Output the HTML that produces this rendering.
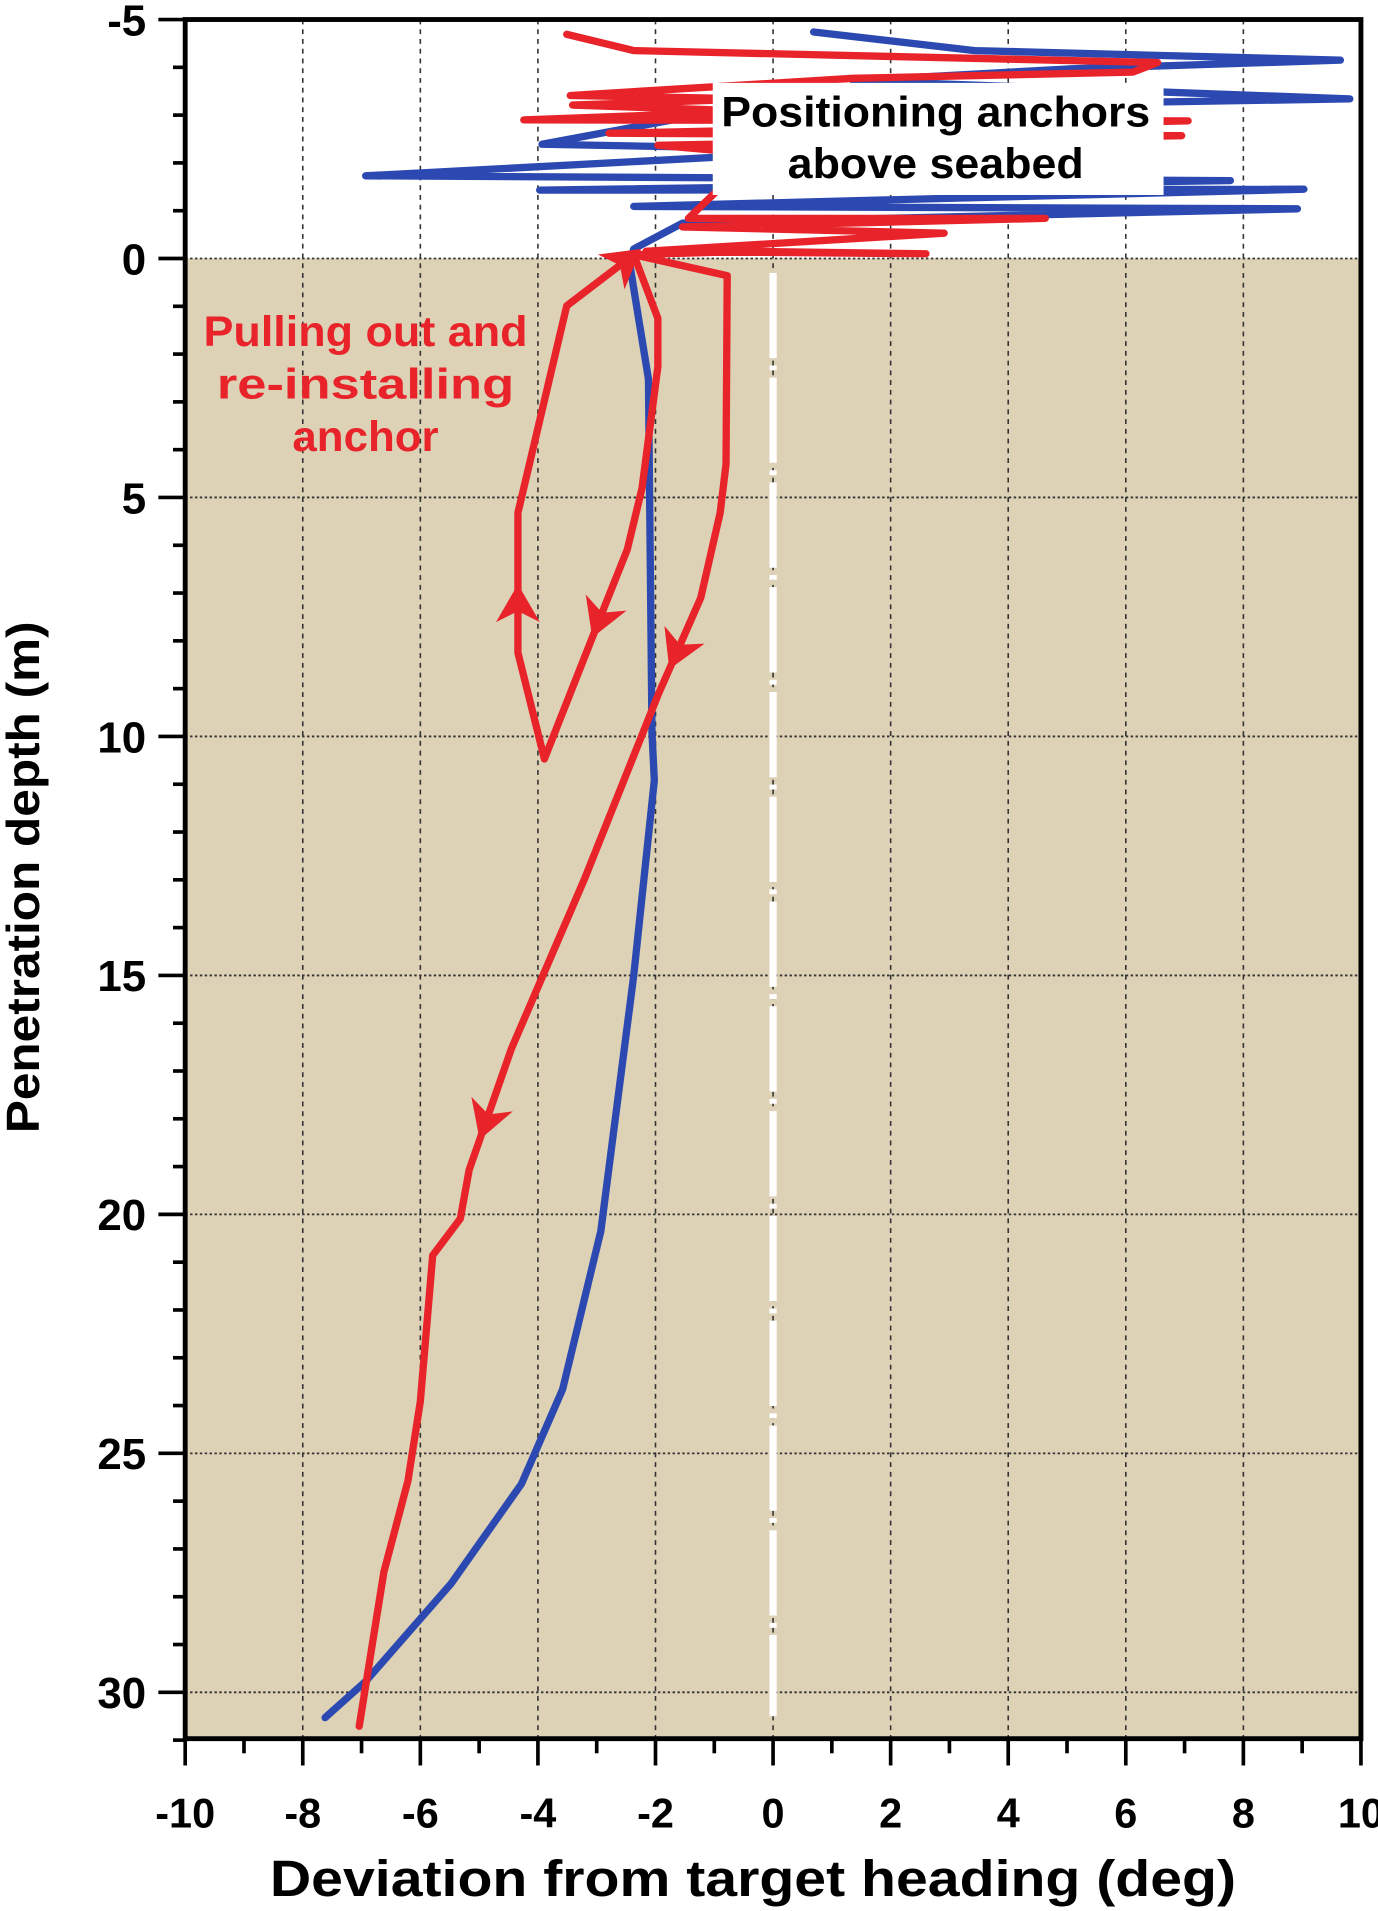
<!DOCTYPE html>
<html><head><meta charset="utf-8"><style>
html,body{margin:0;padding:0;background:#fff;}
svg{display:block;font-family:"Liberation Sans",Arial,sans-serif;}
</style></head><body>
<svg id="chart" width="1378" height="1911" viewBox="0 0 1131 1568.4" xmlns="http://www.w3.org/2000/svg">
<g id="layer"></g>
</svg>
<script>
// data: [deviation deg, depth m]
const blueSeries = [[0.69,-4.74],[3.43,-4.35],[9.65,-4.15],[5.09,-3.97],[1.36,-3.72],[9.81,-3.34],[-0.71,-3.13],[-3.93,-2.39],[1.36,-2.27],[-6.93,-1.73],[7.78,-1.63],[-3.97,-1.43],[9.03,-1.45],[-2.37,-1.09],[8.92,-1.04],[-1.54,-0.74],[-2.37,-0.2],[-2.44,0.1],[-2.12,2.52],[-2.06,9.91],[-2.02,10.92],[-2.37,15],[-2.93,20.35],[-3.58,23.66],[-4.28,25.64],[-5.48,27.73],[-6.93,29.77],[-7.62,30.53]];
const redAbove = [[-3.51,-4.69],[-2.37,-4.35],[6.54,-4.1],[6.12,-3.9],[1.36,-3.77],[-3.45,-3.41],[-0.3,-3.34],[-3.41,-3.21],[-0.3,-3.08],[-4.24,-2.9],[7.06,-2.88],[-2.79,-2.62],[6.95,-2.57],[-1.96,-2.37],[-0.3,-2.19],[-1.44,-0.84],[4.63,-0.84],[-1.54,-0.66],[2.91,-0.53],[-2.16,-0.15],[2.6,-0.1],[-0.4,-0.15],[-2.37,-0.08]];
const redInstall1 = [[-2.37,-0.08],[-1.96,1.25],[-1.96,2.27],[-2.23,4.81],[-2.48,6.09],[-2.85,7.23],[-3.89,10.47]];
const redPullOut = [[-3.89,10.47],[-4.34,8.25],[-4.34,5.32],[-3.51,0.99],[-2.37,-0.08]];
const redReinstall = [[-2.37,-0.08],[-0.78,0.36],[-0.8,4.3],[-0.9,5.32],[-1.23,7.1],[-1.96,9.14],[-3.2,12.96],[-4.45,16.53],[-5.17,19.07],[-5.32,20.09],[-5.79,20.86],[-6,23.91],[-6.21,25.57],[-6.62,27.48],[-7.04,30.71]];
const xTicks = [-10,-8,-6,-4,-2,0,2,4,6,8,10];
const yTicks = [-5,0,5,10,15,20,25,30];
// arrows: [series, segment index, fraction]
const arrows = [["pull",3,0.88],["pull",1,0.35],["inst",5,0.1],["re",4,0.55],["re",7,0.6]];

const L=152,R=1117,T=16,B=1427;
const X=v=>L+(v+10)/20*(R-L);
const Y=d=>T+(d+5)/36*(B-T)*36/35.97;
const NS="http://www.w3.org/2000/svg";
const g=document.getElementById('layer');
function mk(tag,attrs,parent){const e=document.createElementNS(NS,tag);for(const k in attrs)e.setAttribute(k,attrs[k]);(parent||g).appendChild(e);return e;}

let e;
e=mk('rect',{x:L,y:Y(0),width:R-L,height:B-Y(0),fill:'#ddd1b6'});


xTicks.forEach(v=>{if(v>-10&&v<10){e=mk('line',{x1:X(v),x2:X(v),y1:T,y2:B,stroke:'#333','stroke-width':1.3,'stroke-dasharray':'4 4'});

}});
yTicks.forEach(v=>{if(v>-5){e=mk('line',{x1:L,x2:R,y1:Y(v),y2:Y(v),stroke:'#333','stroke-width':1.5,'stroke-dasharray':'2 2'});

}});
e=mk('line',{x1:X(0),x2:X(0),y1:Y(0.3),y2:Y(30.5),stroke:'#fff','stroke-width':6,'stroke-dasharray':'70 6 4 6'});



function line(pts,color,name,w){const s=mk('polyline',{points:pts.map(p=>X(p[0])+','+Y(p[1])).join(' '),fill:'none',stroke:color,'stroke-width':w||6,'stroke-linejoin':'round','stroke-linecap':'round'});

return s;}
line(blueSeries,'#2b49b0','blue-anchor-line');
line(redAbove,'#e8232a','red-above-seabed-line');
line(redInstall1,'#e8232a','red-first-install-line');
line(redPullOut,'#e8232a','red-pull-out-line');
line(redReinstall,'#e8232a','red-reinstall-line');

const sets={pull:redPullOut,inst:redInstall1,re:redReinstall};
arrows.forEach(a=>{const s=sets[a[0]];const p=s[a[1]],q=s[a[1]+1];
const x1=X(p[0]),y1=Y(p[1]),x2=X(q[0]),y2=Y(q[1]);
const x=x1+(x2-x1)*a[2],y=y1+(y2-y1)*a[2];const ang=Math.atan2(y2-y1,x2-x1)*180/Math.PI;
e=mk('polygon',{points:'16,0 -15,-18 -6,0 -15,18',fill:'#e8232a',transform:`translate(${x},${y}) rotate(${ang})`});

});

e=mk('rect',{x:585,y:68,width:370,height:92,fill:'#fff'});


e=mk('text',{x:768,y:104,'text-anchor':'middle','font-size':35,'font-weight':'bold',fill:'#000',textLength:352,lengthAdjust:'spacingAndGlyphs'});e.textContent='Positioning anchors';


e=mk('text',{x:768,y:146,'text-anchor':'middle','font-size':35,'font-weight':'bold',fill:'#000',textLength:243,lengthAdjust:'spacingAndGlyphs'});e.textContent='above seabed';


[['Pulling out and',266],['re-installing',244],['anchor',120]].forEach((t,i)=>{e=mk('text',{x:300,y:284+i*43,'text-anchor':'middle','font-size':35,'font-weight':'bold',fill:'#e8232a',textLength:t[1],lengthAdjust:'spacingAndGlyphs'});e.textContent=t[0];

});

e=mk('rect',{x:L,y:T,width:R-L,height:B-T,fill:'none',stroke:'#000','stroke-width':4});


for(let v=-10;v<=10;v++){const major=v%2===0;e=mk('line',{x1:X(v),x2:X(v),y1:B,y2:B+(major?22:12),stroke:'#000','stroke-width':3});

}
xTicks.forEach(v=>{e=mk('text',{x:X(v),y:1500,'text-anchor':'middle','font-size':34,'font-weight':'bold'});e.textContent=v;

});
for(let v=-5;v<=31;v++){const major=v%5===0;e=mk('line',{x1:L,x2:L-(major?22:10),y1:Y(v),y2:Y(v),stroke:'#000','stroke-width':3});

}
yTicks.forEach(v=>{e=mk('text',{x:120,y:Y(v)+13,'text-anchor':'end','font-size':36,'font-weight':'bold'});e.textContent=v;

});
e=mk('text',{x:618,y:1556,'text-anchor':'middle','font-size':42,'font-weight':'bold',textLength:793,lengthAdjust:'spacingAndGlyphs'});e.textContent='Deviation from target heading (deg)';


e=mk('text',{x:0,y:0,'text-anchor':'middle','font-size':38,'font-weight':'bold',textLength:420,lengthAdjust:'spacingAndGlyphs',transform:'translate(32,720) rotate(-90)'});e.textContent='Penetration depth (m)';


</script>
</body></html>
